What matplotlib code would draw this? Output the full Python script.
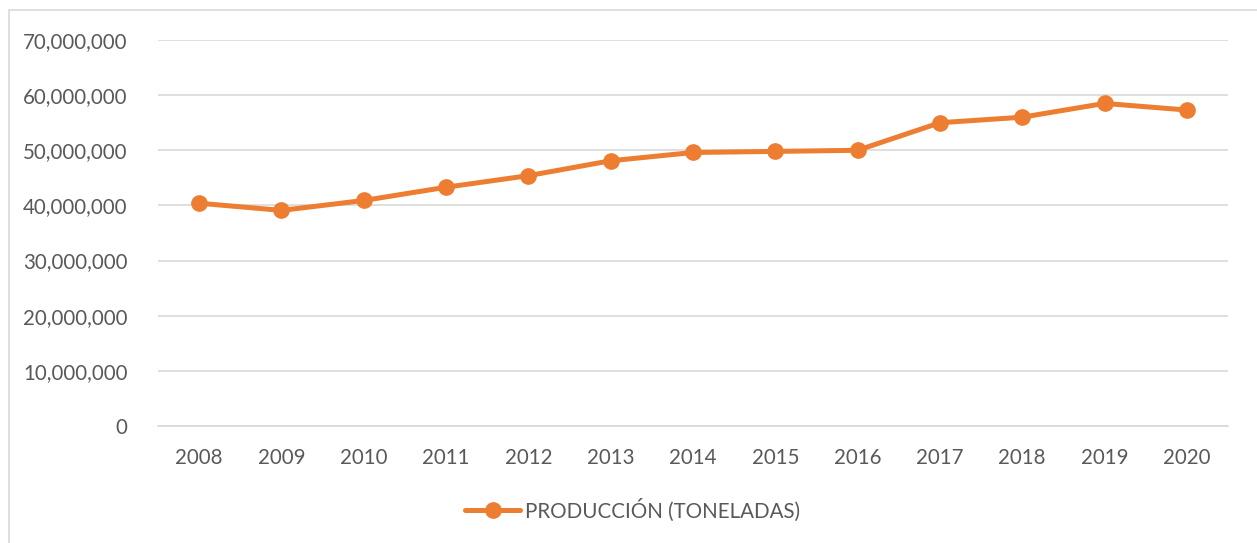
import matplotlib
matplotlib.use("Agg")
import matplotlib.pyplot as plt
from matplotlib.ticker import FuncFormatter
from matplotlib.patches import Rectangle

years = ["2008", "2009", "2010", "2011", "2012", "2013", "2014",
         "2015", "2016", "2017", "2018", "2019", "2020"]
produccion = [40.4e6, 39.1e6, 40.9e6, 43.3e6, 45.4e6, 48.1e6, 49.6e6,
              49.8e6, 50.0e6, 55.0e6, 56.0e6, 58.5e6, 57.3e6]
series_label = "PRODUCCIÓN (TONELADAS)"

plt.rcParams['font.family'] = ['Lato', 'DejaVu Sans']
fig = plt.figure(figsize=(12.57, 5.43), dpi=100)
fig.patches.append(Rectangle((9/1257, -0.1), 1.2, 1 - 10/543 + 0.1, transform=fig.transFigure,
                             fill=False, edgecolor='#D9D9D9', linewidth=1.2, zorder=0))
ax = fig.add_axes([158/1257, 1 - 426/543, (1228 - 158)/1257, (426 - 40)/543])

x = list(range(len(years)))
ax.plot(x, produccion, color='#ED7D31', linewidth=3.6, marker='o', markersize=11,
        solid_capstyle='round', label=series_label, zorder=3)

ax.set_xlim(-0.5, len(years) - 0.5)
ax.set_ylim(0, 70e6)
ax.set_yticks([i * 10e6 for i in range(8)])
ax.yaxis.set_major_formatter(FuncFormatter(lambda v, p: f"{int(v):,}"))
ax.set_xticks(x)
ax.set_xticklabels(years)
ax.grid(axis='y', color='#D9D9D9', linewidth=1.2)
ax.set_axisbelow(True)
for s in ['top', 'right', 'left']:
    ax.spines[s].set_visible(False)
ax.spines['bottom'].set_color('#D9D9D9')
ax.spines['bottom'].set_linewidth(1.2)
ax.tick_params(axis='both', length=0, labelsize=14.8, colors='#595959')
ax.tick_params(axis='y', pad=22)
ax.tick_params(axis='x', pad=16)

leg = fig.legend(loc='center', bbox_to_anchor=(0.503, 1 - 510/543), frameon=False,
                 fontsize=14.8, handlelength=2.7, handletextpad=0.2)
for t in leg.get_texts():
    t.set_color('#595959')

fig.savefig("out.png", dpi=100)
